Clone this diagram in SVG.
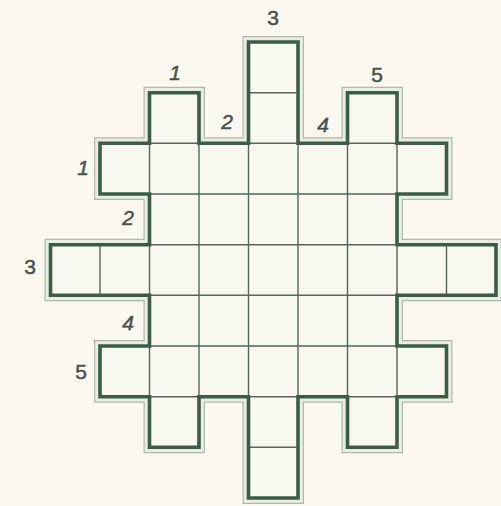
<svg xmlns="http://www.w3.org/2000/svg" width="501" height="506" viewBox="0 0 501 506">
  <defs>
    <path id="outline" d="M248.5,42 H298 V143.3 H347.5 V92.7 H397 V143.3 H446.5 V194 H397 V244.7 H496 V295.3 H397 V346 H446.5 V396.7 H397 V447.3 H347.5 V396.7 H298 V498 H248.5 V396.7 H199 V447.3 H149.5 V396.7 H100 V346 H149.5 V295.3 H50.5 V244.7 H149.5 V194 H100 V143.3 H149.5 V92.7 H199 V143.3 H248.5 Z"/>
    <clipPath id="shapeClip"><use href="#outline"/></clipPath>
    <style>
      .halo-line { fill: none; stroke: #aeb8ac; stroke-width: 12; stroke-linejoin: miter; }
      .halo-band { fill: none; stroke: #e8eee4; stroke-width: 9.6; stroke-linejoin: miter; }
      .cells { fill: #f8f8f1; stroke: none; }
      .grid line { stroke: #56665a; stroke-width: 1.4; }
      .border { fill: none; stroke: #3c5d45; stroke-width: 3.6; stroke-linejoin: miter; }
      .lbl { font-family: "Liberation Sans", "DejaVu Sans", sans-serif; font-size: 21px; fill: #4a524c; stroke: #4a524c; stroke-width: 0.5; text-anchor: middle; }
      .it { font-style: italic; }
    </style>
  </defs>
  <rect width="501" height="506" fill="#fbf8ef"/>
  <g id="board">
    <use href="#outline" class="halo-line"/>
    <use href="#outline" class="halo-band"/>
    <use href="#outline" class="cells"/>
    <g class="grid" clip-path="url(#shapeClip)">
      <line x1="40" y1="92.7" x2="501" y2="92.7"/>
      <line x1="40" y1="143.3" x2="501" y2="143.3"/>
      <line x1="40" y1="194" x2="501" y2="194"/>
      <line x1="40" y1="244.7" x2="501" y2="244.7"/>
      <line x1="40" y1="295.3" x2="501" y2="295.3"/>
      <line x1="40" y1="346" x2="501" y2="346"/>
      <line x1="40" y1="396.7" x2="501" y2="396.7"/>
      <line x1="40" y1="447.3" x2="501" y2="447.3"/>
      <line x1="100" y1="30" x2="100" y2="506"/>
      <line x1="149.5" y1="30" x2="149.5" y2="506"/>
      <line x1="199" y1="30" x2="199" y2="506"/>
      <line x1="248.5" y1="30" x2="248.5" y2="506"/>
      <line x1="298" y1="30" x2="298" y2="506"/>
      <line x1="347.5" y1="30" x2="347.5" y2="506"/>
      <line x1="397" y1="30" x2="397" y2="506"/>
      <line x1="446.5" y1="30" x2="446.5" y2="506"/>
    </g>
    <use href="#outline" class="border"/>
  </g>
  <g id="labels">
    <text class="lbl it" x="175" y="80">1</text>
    <text class="lbl it" x="227" y="129">2</text>
    <text class="lbl" x="273" y="25">3</text>
    <text class="lbl it" x="323" y="132">4</text>
    <text class="lbl" x="377" y="82">5</text>
    <text class="lbl it" x="83" y="175">1</text>
    <text class="lbl it" x="128" y="225">2</text>
    <text class="lbl" x="30" y="274">3</text>
    <text class="lbl it" x="128" y="330">4</text>
    <text class="lbl" x="81" y="379">5</text>
  </g>
</svg>
